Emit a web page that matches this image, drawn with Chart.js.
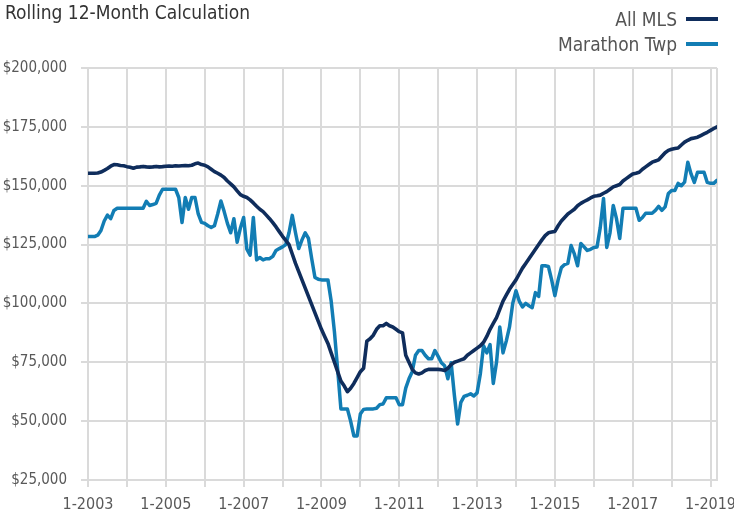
<!DOCTYPE html>
<html>
<head>
<meta charset="utf-8">
<title>Rolling 12-Month Calculation</title>
<script src="https://cdn.jsdelivr.net/npm/chart.js@4.4.1/dist/chart.umd.min.js"></script>
<style>
  html, body { margin: 0; padding: 0; background: #fff; }
  #wrap {
    position: relative; width: 734px; height: 515px;
    font-family: "Liberation Sans Narrow", "Arial Narrow", "DejaVu Sans Condensed", sans-serif;
  }
  #title { position: absolute; left: 5px; top: 1px; font-size: 19px; color: #333; }
  .leg { position: absolute; right: 16px; font-size: 19px; color: #555; display: flex; align-items: center; }
  .leg .sw { display: inline-block; width: 32px; height: 4px; margin-left: 9px; }
</style>
</head>
<body>
<div id="wrap">
  <canvas id="chart" width="734" height="515"></canvas>
  <div id="title">Rolling 12-Month Calculation</div>
  <div class="leg" style="top:8px">All MLS<span class="sw" style="background:#0f2d5c"></span></div>
  <div class="leg" style="top:33px">Marathon Twp<span class="sw" style="background:#127db4"></span></div>
</div>
<script>
// monthly series, Jan 2003 .. Mar 2019
const startYear = 2003;
const yTicks = [25000, 50000, 75000, 100000, 125000, 150000, 175000, 200000];

const allMls = [
  155300, 155300, 155300, 155400, 155800, 156500, 157300, 158300, 159000, 158900, 158600, 158500,
  158100, 157800, 157400, 157900, 158000, 158200, 158000, 157900, 158000, 158200, 158000, 158100,
  158300, 158400, 158300, 158500, 158400, 158500, 158600, 158500, 158700, 159300, 159600, 159000,
  158700, 158000, 157000, 156000, 155300, 154500, 153500, 152000, 150800, 149500, 147800, 146200,
  145500, 145000, 144000, 142700, 141300, 140000, 139000, 137500, 136000, 134300, 132500, 130500,
  128500, 126800, 125000, 121000, 117000, 113500, 110000, 106500, 103000, 99500, 96000, 92500,
  89000, 86000, 83000, 79000, 75000, 71000, 67000, 65000, 62500, 64000, 66000, 68500,
  71000, 72500, 84000, 85000, 86500, 89000, 90500, 90500, 91500, 90500, 90000, 89000,
  88000, 87500, 78000, 75000, 72000, 70500, 70000, 70500, 71500, 72000, 72000, 72000,
  72000, 71800, 71500, 72500, 74000, 75000, 75500, 76000, 76500, 78000, 79000, 80000,
  81000, 82000, 83500, 86000, 89000, 91500, 94000, 97500, 101000, 103500, 106000, 108000,
  110000, 112500, 115000, 117000, 119000, 121000, 123000, 125000, 127000, 128800, 130000, 130300,
  130600, 133000, 135000, 136500, 138000, 139000, 140000, 141500, 142500, 143300, 144000, 144800,
  145500, 145700, 146000, 146800, 147500, 148500, 149500, 150000, 150500, 152000, 153000, 154000,
  155000, 155300, 155700, 157000, 158000, 159000, 160000, 160500, 161000, 162500, 164000, 165000,
  165500, 165800, 166000, 167300, 168500, 169300, 170000, 170300, 170600, 171300, 172000, 172700,
  173500, 174300, 175000
];

const marathonTwp = [
  128400, 128400, 128400, 129000, 131000, 135000, 137500, 136000, 139500, 140400, 140400, 140400,
  140400, 140400, 140400, 140400, 140400, 140400, 143400, 141600, 142000, 142500, 146000, 148500,
  148500, 148500, 148500, 148500, 145000, 134400, 145000, 140000, 145000, 145000, 138000, 134400,
  134000, 133000, 132300, 133000, 138000, 143500, 139000, 134000, 130000, 136000, 126000, 132000,
  136500, 123000, 120500, 136500, 118500, 119500, 118500, 119000, 119000, 120000, 122500, 123300,
  124000, 125000, 130000, 137400, 130000, 123300, 127000, 130000, 127600, 119000, 111000, 110300,
  110000, 110000, 110000, 101000, 88000, 72000, 55200, 55200, 55200, 50000, 43700, 43700,
  53000, 55000, 55200, 55200, 55200, 55500, 57000, 57300, 59900, 59900, 59900, 59900,
  57000, 57000, 64000, 68000, 71000, 78000, 80000, 80000, 78000, 76500, 76500, 80000,
  77500, 74800, 73500, 68000, 74800, 61000, 48800, 58000, 60500, 61000, 61600, 60700,
  62000, 70000, 82000, 79000, 82500, 66000, 75000, 90000, 79000, 84000, 90000, 100000,
  105400, 101000, 98500, 100000, 99000, 98200, 104600, 103000, 116000, 116000, 115700, 110000,
  103300, 110000, 115200, 116500, 117000, 124600, 121000, 116000, 125500, 124000, 122500, 123000,
  123800, 124000, 132300, 144600, 123800, 130000, 141600, 136000, 127600, 140400, 140400, 140400,
  140400, 140400, 135300, 136500, 138300, 138300, 138300, 139500, 141200, 139500, 141000, 146700,
  148000, 148000, 151000, 150000, 151500, 160000, 155000, 151400, 155700, 155700, 155700, 151400,
  151000, 151000, 152300
];

const lastMonth = allMls.length - 1;
const gridColor = '#dadada';

Chart.defaults.font.family = "'Liberation Sans Narrow', 'Arial Narrow', 'DejaVu Sans Condensed', sans-serif";
Chart.defaults.font.size = 15;
Chart.defaults.color = '#595959';

const toPoints = arr => arr.map((v, i) => ({ x: i, y: v }));

new Chart(document.getElementById('chart'), {
  type: 'line',
  data: {
    datasets: [
      {
        label: 'All MLS',
        data: toPoints(allMls),
        borderColor: '#0f2d5c',
        borderWidth: 3.6,
        pointRadius: 0,
        tension: 0,
        borderJoinStyle: 'round',
        borderCapStyle: 'round'
      },
      {
        label: 'Marathon Twp',
        data: toPoints(marathonTwp),
        borderColor: '#127db4',
        borderWidth: 3.5,
        pointRadius: 0,
        tension: 0,
        borderJoinStyle: 'round',
        borderCapStyle: 'round'
      }
    ]
  },
  options: {
    responsive: false,
    animation: false,
    layout: { padding: { top: 68, right: 17, left: 0, bottom: 0 } },
    plugins: { legend: { display: false }, tooltip: { enabled: false } },
    scales: {
      x: {
        type: 'linear',
        min: 0,
        max: lastMonth,
        afterBuildTicks: scale => {
          const t = [];
          for (let m = 0; m <= lastMonth; m += 12) t.push({ value: m });
          t.push({ value: lastMonth });
          scale.ticks = t;
        },
        afterFit: scale => { scale.height = 35; },
        ticks: {
          autoSkip: false,
          maxRotation: 0,
          padding: 8,
          font: { size: 16 },
          callback: v => (v % 24 === 0 ? '1-' + (startYear + v / 12) : '')
        },
        grid: {
          color: gridColor,
          lineWidth: 2,
          tickLength: 7,
          tickColor: ctx => (ctx.tick && ctx.tick.value === lastMonth ? 'rgba(0,0,0,0)' : gridColor)
        },
        border: { color: gridColor, width: 2 }
      },
      y: {
        min: yTicks[0],
        max: yTicks[yTicks.length - 1],
        afterBuildTicks: scale => { scale.ticks = yTicks.map(v => ({ value: v })); },
        afterFit: scale => { scale.width = 88; },
        ticks: {
          padding: 14,
          font: { size: 15 },
          callback: v => '$' + v.toLocaleString('en-US')
        },
        grid: { color: gridColor, lineWidth: 2, tickLength: 7 },
        border: { color: gridColor, width: 2 }
      }
    }
  }
});
</script>
</body>
</html>
